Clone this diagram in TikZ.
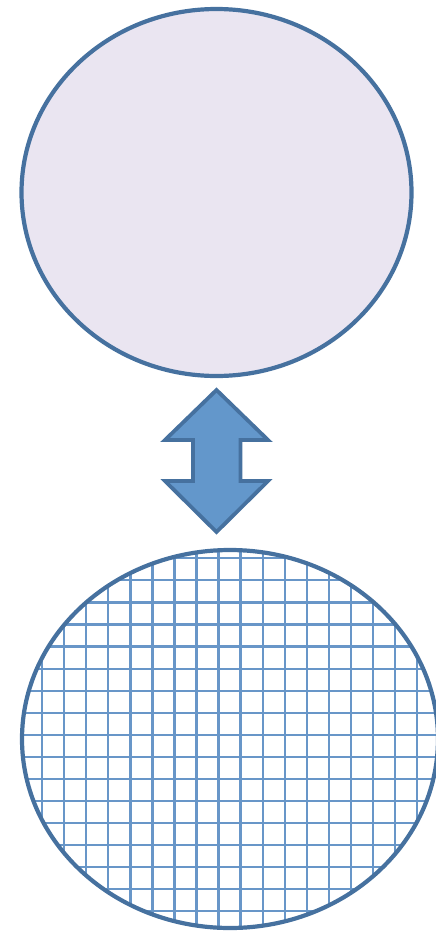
\documentclass[tikz,border=0pt]{standalone}
\usetikzlibrary{shapes.geometric}
\definecolor{edgeblue}{HTML}{46719F}
\definecolor{lavender}{HTML}{EAE5F1}
\definecolor{gridblue}{HTML}{6896C8}
\definecolor{arrowblue}{HTML}{6397CB}
\tikzset{
  oval/.style={ellipse, draw=edgeblue, line width=4.2pt, inner sep=0pt},
  gridline/.style={draw=gridblue, line width=2.2pt},
  bigarrow/.style={draw=edgeblue, fill=arrowblue, line width=3.8pt, line join=miter}
}
\begin{document}
\begin{tikzpicture}[x=1pt,y=-1pt]
\useasboundingbox (0,0) rectangle (436,931);
\node[oval, fill=lavender, minimum width=390pt, minimum height=367pt] (top) at (216.5,192.5) {};
\begin{scope}
  \clip (230,739) ellipse [x radius=208, y radius=189];
  \foreach \i in {-1,...,19} {\draw[gridline] (42.3+22.03*\i,530) -- (42.3+22.03*\i,950);}
  \foreach \j in {-1,...,18} {\draw[gridline] (0,558.3+22.06*\j) -- (460,558.3+22.06*\j);}
\end{scope}
\node[oval, minimum width=416pt, minimum height=378pt] (bottom) at (230,739) {};
\draw[bigarrow] (216.5,390) coordinate (tiptop) -- (268,440) -- (240.5,440) -- (240.5,481) -- (268,481)
  -- (216.5,532) coordinate (tipbot) -- (165,481) -- (193,481) -- (193,440) -- (165,440) -- cycle;
\end{tikzpicture}
\end{document}
